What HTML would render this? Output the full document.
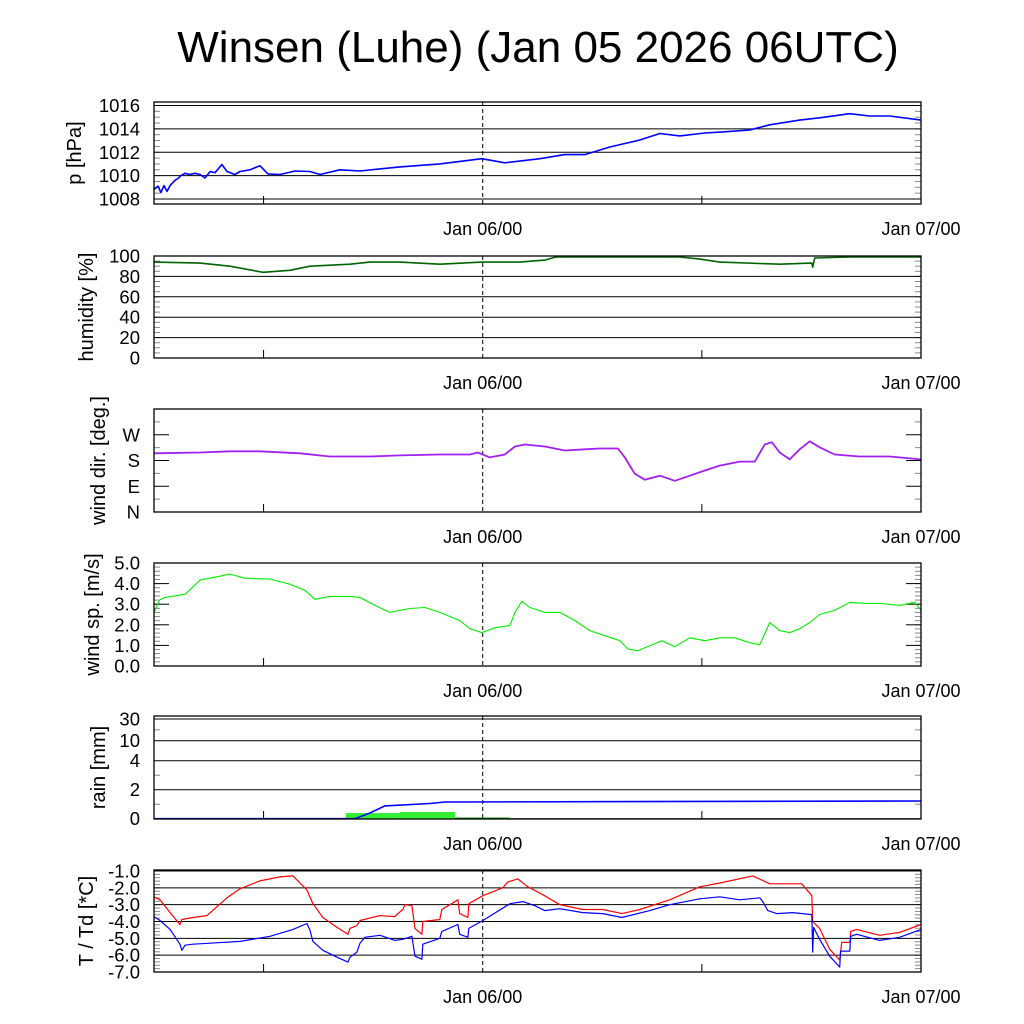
<!DOCTYPE html>
<html><head><meta charset="utf-8">
<style>
html,body{margin:0;padding:0;background:#fff;}
svg{display:block;font-family:"Liberation Sans",sans-serif;}
</style></head>
<body>
<svg id="chart" width="1024" height="1024" viewBox="0 0 1024 1024" xmlns="http://www.w3.org/2000/svg">
<rect width="1024" height="1024" fill="#fff"/>
<text x="538" y="62" font-size="44" text-anchor="middle">Winsen (Luhe) (Jan 05 2026 06UTC)</text>
</svg>
<script>
// time in hours since Jan 05 06UTC
const xTickLabels = ["Jan 06/00", "Jan 07/00"];
const xTickHours = [18, 42];
const xMinorHours = [6, 30];

const presHours = [0,0.22,0.38,0.55,0.71,0.88,1.15,1.31,1.48,1.7,1.97,2.24,2.52,2.79,3.07,3.34,3.72,4.0,4.43,4.71,5.26,5.8,6.24,6.9,7.72,8.54,9.09,10.18,11.28,13.46,15.65,17.95,19.21,21.13,22.5,23.59,24.96,26.6,27.7,28.79,30.16,31.25,32.62,33.72,35.36,36.45,38.1,39.19,40.28,42];
const presValues = [1008.8,1009.1,1008.55,1009.15,1008.65,1009.15,1009.6,1009.75,1010.0,1010.2,1010.1,1010.2,1010.1,1009.8,1010.35,1010.25,1010.95,1010.35,1010.1,1010.35,1010.5,1010.85,1010.15,1010.1,1010.4,1010.35,1010.1,1010.5,1010.4,1010.75,1011.0,1011.45,1011.1,1011.45,1011.8,1011.8,1012.45,1013.05,1013.6,1013.4,1013.65,1013.75,1013.9,1014.35,1014.75,1014.95,1015.3,1015.1,1015.1,1014.75];
const presTicks = [1008,1010,1012,1014,1016];

const humHours = [0,2.52,4.16,5.97,7.44,8.54,10.73,11.82,13.46,15.65,17.95,20.03,21.4,22.0,24.41,28.79,29.89,30.98,34.26,36.02,36.07,36.18,38.1,42];
const humValues = [94,93,90,84,86,90,92,94,94,92,94,94,96,99,99,99,97,94,92,93,89,98,99,99];
const humTicks = [0,20,40,60,80,100];

const dirHours = [0,2.52,4.16,5.8,7.99,9.63,11.82,13.46,15.65,17.3,17.73,18.39,19.21,19.76,20.31,21.4,22.5,23.59,24.41,25.4,25.78,26.32,26.87,27.7,28.52,29.34,30.16,30.98,32.07,32.9,33.44,33.83,34.26,34.81,35.36,35.91,36.45,37.27,38.64,40.28,42];
const dirValues = [205,208,212,212,205,194,194,198,201,201,208,191,201,229,236,229,215,219,222,222,191,134,113,127,109,127,145,162,176,176,236,244,208,184,219,247,226,201,194,194,184];
const dirTicks = [0,90,180,270];
const dirLabels = ["N","E","S","W"];

const wsHours = [0,0.3,0.6,1.7,2.52,3.34,4.16,4.98,6.35,7.44,8.26,8.81,9.63,10.73,11.28,12.1,12.92,14.01,14.83,15.65,16.74,17.3,17.95,18.66,19.49,19.76,20.14,20.58,21.4,22.22,23.04,23.86,24.69,25.51,25.94,26.49,27.15,27.81,28.52,29.34,30.16,30.98,31.8,32.62,33.17,33.72,34.26,34.81,35.36,35.91,36.45,37.27,38.1,38.92,39.74,40.83,41.65,42];
const wsValues = [2.6,3.2,3.33,3.48,4.17,4.31,4.46,4.26,4.22,3.97,3.68,3.24,3.38,3.38,3.33,2.94,2.6,2.79,2.84,2.6,2.21,1.81,1.62,1.86,1.96,2.6,3.14,2.84,2.6,2.6,2.21,1.72,1.47,1.23,0.83,0.74,0.98,1.23,0.93,1.37,1.23,1.37,1.37,1.13,1.03,2.11,1.72,1.62,1.81,2.11,2.5,2.7,3.09,3.04,3.04,2.94,3.09,2.7];
const wsTicks = [0,1,2,3,4,5];

const rainHours = [0,11.0,11.82,12.64,15.11,15.93,42];
const rainValues = [0,0,0.39,0.88,1.05,1.15,1.22];
const rainBarStart = [10.51,13.46,16.48];
const rainBarEnd = [13.46,16.48,19.49];
const rainBarValues = [0.39,0.46,0.08];
const rainTicks = [0,2,4,10,30];

const tHours = [0,0.33,0.88,1.42,1.53,2.13,2.9,3.45,4.0,4.71,5.8,6.9,7.61,8.37,8.7,9.25,10.02,10.62,10.73,11.11,11.28,12.37,13.19,13.36,13.63,13.74,14.12,14.29,14.67,14.72,15.65,15.76,16.64,16.74,17.19,17.24,18.01,19.1,19.38,19.92,20.47,21.29,22.22,23.48,24.58,25.62,26.6,28.24,29.89,30.98,32.79,33.72,35.47,36.02,36.07,36.45,37.0,37.55,37.66,38.1,38.15,38.48,39.74,40.83,42];
const tValues = [-2.53,-2.71,-3.47,-4.18,-3.88,-3.76,-3.65,-3.12,-2.59,-2.06,-1.59,-1.35,-1.29,-2.12,-2.94,-3.76,-4.35,-4.76,-4.41,-4.24,-3.94,-3.65,-3.71,-3.53,-3.29,-3.0,-3.06,-4.41,-4.76,-4.0,-3.88,-3.29,-2.71,-3.53,-3.76,-2.94,-2.47,-2.0,-1.65,-1.47,-1.94,-2.41,-3.0,-3.29,-3.29,-3.53,-3.29,-2.71,-1.94,-1.71,-1.29,-1.76,-1.76,-2.47,-4.0,-4.41,-5.65,-6.29,-5.24,-5.24,-4.59,-4.47,-4.82,-4.65,-4.18];
const tdHours = [0,0.33,0.88,1.42,1.53,1.7,2.13,3.07,4.71,6.35,7.61,8.37,8.54,8.7,9.25,10.02,10.62,10.73,11.11,11.28,11.55,12.37,13.19,13.63,14.12,14.29,14.67,14.72,15.65,15.76,16.64,16.74,17.19,17.24,18.01,19.49,20.2,20.85,21.4,22.22,23.48,24.58,25.62,27.15,28.24,29.89,30.98,32.07,33.17,33.33,33.61,34.1,34.98,36.02,36.07,36.12,36.45,37.0,37.55,37.6,38.1,38.15,38.48,39.74,40.83,42];
const tdValues = [-3.71,-3.94,-4.47,-5.35,-5.71,-5.41,-5.35,-5.29,-5.18,-4.88,-4.47,-4.12,-4.53,-5.18,-5.71,-6.12,-6.41,-6.12,-5.82,-5.29,-4.94,-4.82,-5.12,-5.06,-4.88,-6.06,-6.24,-5.35,-5.0,-4.59,-4.18,-4.76,-4.94,-4.41,-3.94,-2.94,-2.82,-3.06,-3.35,-3.24,-3.47,-3.53,-3.76,-3.35,-3.0,-2.65,-2.53,-2.71,-2.59,-2.82,-3.35,-3.53,-3.47,-3.59,-5.82,-4.35,-5.06,-6.06,-6.71,-5.76,-5.76,-4.88,-4.76,-5.12,-4.94,-4.47];
const tTicks = [-7,-6,-5,-4,-3,-2,-1];

const NS = "http://www.w3.org/2000/svg";
const svg = document.getElementById("chart");
const X0 = 154, X1 = 921, H0 = 0, H1 = 42;
function xs(h){ return X0 + (h - H0) / (H1 - H0) * (X1 - X0); }
function mk(tag, attrs, parent){
  const e = document.createElementNS(NS, tag);
  for (const k in attrs) e.setAttribute(k, attrs[k]);
  (parent || svg).appendChild(e);
  return e;
}
function linScale(v0, v1, y0, y1){ return v => y0 + (v - v0) / (v1 - v0) * (y1 - y0); }

function panel(name, top, bottom, ys, opts){
  const g = mk("g", {});
  
  
  (opts.minor || []).forEach(v => {
    const y = ys(v);
    mk("line", {x1:X0, x2:X0+6, y1:y, y2:y, stroke:"#888", "stroke-width":1}, g);
    mk("line", {x1:X1-6, x2:X1, y1:y, y2:y, stroke:"#888", "stroke-width":1}, g);
  });
  opts.ticks.forEach((v, i) => {
    const y = ys(v);
    if (opts.grid) {
      const gl = mk("line", {x1:X0, x2:X1, y1:y, y2:y, stroke:"#000", "stroke-width":1}, g);
      
      
    } else {
      mk("line", {x1:X0, x2:X0+15, y1:y, y2:y, stroke:"#000", "stroke-width":1}, g);
      mk("line", {x1:X1-15, x2:X1, y1:y, y2:y, stroke:"#000", "stroke-width":1}, g);
    }
    const t = mk("text", {x:140, y:y+6.5, "font-size":18.5, "text-anchor":"end"}, g);
    
    
    t.textContent = opts.labels ? opts.labels[i] : (opts.fmt ? opts.fmt(v) : String(v));
  });
  xMinorHours.forEach(h => mk("line", {x1:xs(h), x2:xs(h), y1:bottom, y2:bottom-8, stroke:"#000"}, g));
  const dl = mk("line", {x1:xs(18), x2:xs(18), y1:top, y2:bottom, stroke:"#000", "stroke-dasharray":"4,3"}, g);
  
  
  xTickHours.forEach((h, i) => {
    const t = mk("text", {x:xs(h), y:bottom+31, "font-size":18, "text-anchor":"middle"}, g);
    
    
    t.textContent = xTickLabels[i];
  });
  const yt = mk("text", {transform:"translate(" + opts.titleX + "," + ((top+bottom)/2) + ") rotate(-90)", "font-size":20, "text-anchor":"middle"}, g);
  
  
  yt.textContent = opts.title;
  return g;
}
function frame(g, top, bottom){
  mk("rect", {x:X0, y:top, width:X1-X0, height:bottom-top, fill:"none", stroke:"#000", "stroke-width":1.3}, g);
}
function line(g, hours, vals, ys, color, name, w){
  const d = hours.map((h, i) => (i ? "L" : "M") + xs(h).toFixed(1) + "," + ys(vals[i]).toFixed(1)).join("");
  const p = mk("path", {d:d, fill:"none", stroke:color, "stroke-width":w||1.4, "stroke-linejoin":"round"}, g);
  
  
}
function range(a, b, s){ const r=[]; for(let v=a; v<=b+1e-9; v+=s) r.push(+v.toFixed(4)); return r; }

{
  const ys = linScale(1008, 1016, 199, 105.5);
  const g = panel("pressure", 102, 204, ys, {ticks:presTicks, grid:true, minor:range(1008,1016,0.5), title:"p [hPa]", titleX:81});
  line(g, presHours, presValues, ys, "#0000ff", "pressure-line", 1.6);
  frame(g, 102, 204);
}
{
  const ys = linScale(0, 100, 358, 256);
  const g = panel("humidity", 256, 358, ys, {ticks:humTicks, grid:true, minor:range(0,100,5), title:"humidity [%]", titleX:93});
  line(g, humHours, humValues, ys, "#006400", "humidity-line", 1.6);
  frame(g, 256, 358);
}
{
  const ys = linScale(0, 360, 512, 409);
  const g = panel("wind-dir", 409, 512, ys, {ticks:dirTicks, labels:dirLabels, grid:false, minor:[45,135,225,315], title:"wind dir. [deg.]", titleX:105});
  line(g, dirHours, dirValues, ys, "#a020f0", "wind-direction-line", 1.8);
  frame(g, 409, 512);
}
{
  const ys = linScale(0, 5, 666, 563);
  const g = panel("wind-speed", 563, 666, ys, {ticks:wsTicks, grid:false, minor:range(0,5,0.2), fmt:v=>v.toFixed(1), title:"wind sp. [m/s]", titleX:99});
  line(g, wsHours, wsValues, ys, "#00ee00", "wind-speed-line", 1.1);
  frame(g, 563, 666);
}
{
  const tv = [0,2,4,10,30], tp = [818.7,789.7,760.7,740.7,719];
  const ys = v => { for (let i=0;i<tv.length-1;i++){ if (v<=tv[i+1]) return tp[i]+(v-tv[i])/(tv[i+1]-tv[i])*(tp[i+1]-tp[i]); } return tp[tp.length-1]; };
  const g = panel("rain", 716, 819, ys, {ticks:rainTicks, grid:true, minor:[1,3,20], title:"rain [mm]", titleX:105});
  rainBarValues.forEach((v, i) => {
    const y = ys(v);
    const r = mk("rect", {x:xs(rainBarStart[i]), y:y, width:xs(rainBarEnd[i])-xs(rainBarStart[i]), height:ys(0)-y, fill: v < 0.15 ? "#008800" : "#33ee33"}, g);
    
    
  });
  line(g, rainHours, rainValues, ys, "#0000ff", "rain-cumulative-line", 1.6);
  frame(g, 716, 819);
}
{
  const ys = linScale(-7, -1, 972, 871);
  const g = panel("temperature", 870, 972, ys, {ticks:tTicks, grid:true, minor:range(-7,-1,0.2), fmt:v=>v.toFixed(1), title:"T / Td [*C]", titleX:93});
  line(g, tHours, tValues, ys, "#ff0000", "temperature-line", 1.2);
  line(g, tdHours, tdValues, ys, "#0000ff", "dewpoint-line", 1.2);
  frame(g, 870, 972);
}
</script>
</body></html>
